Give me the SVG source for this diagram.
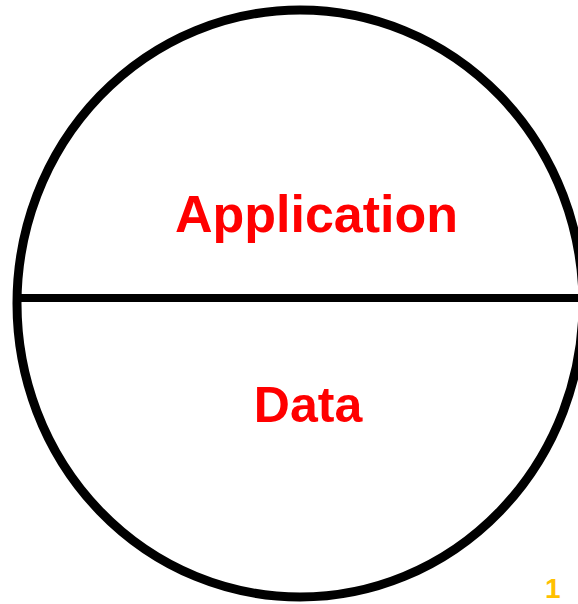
<svg xmlns="http://www.w3.org/2000/svg" width="578" height="604" viewBox="0 0 578 604">
<style>
.lbl{font-family:"Liberation Sans",Arial,sans-serif;font-weight:bold;fill:#FF0000;text-anchor:middle}
.shape{fill:none;stroke:#000;stroke-width:9}
</style>
<rect width="578" height="604" fill="#fff"/>
<g id="circle">
<ellipse class="shape" cx="300" cy="303.5" rx="283" ry="293.5"/>
</g>
<g id="connectors">
<line x1="18" y1="298" x2="578" y2="298" stroke="#000" stroke-width="8"/>
</g>
<g id="application">
<text class="lbl" x="316.5" y="232" font-size="52">Application</text>
</g>
<g id="data">
<text class="lbl" x="308" y="422" font-size="50">Data</text>
</g>
<g id="page">
<text x="545" y="598" font-family="Liberation Sans,Arial,sans-serif" font-weight="bold" font-size="28" fill="#FFC000">1</text>
</g>
</svg>
